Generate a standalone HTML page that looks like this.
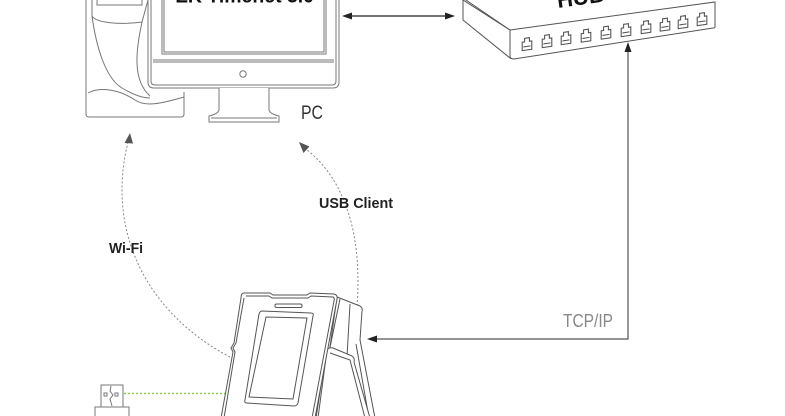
<!DOCTYPE html>
<html><head><meta charset="utf-8"><style>
html,body{margin:0;padding:0;background:#fff;}
svg{display:block;}
</style></head><body>
<svg width="785" height="416" viewBox="0 0 785 416" xmlns="http://www.w3.org/2000/svg">

<!-- Tower -->
<g fill="none" stroke="#777" stroke-width="1">
<path d="M86,0 L86,114 Q86,117 89,117 L181,117 Q184,117 184,114 L184,92"/>
<path d="M92,0 L92,16 C96,23 120,25 142,22 L148,0"/>
<path d="M97,0 L97,5 L142,5 L142,0"/>
<path d="M142,22 C136,50 132,80 150,96"/>
<path d="M92,16 C96,45 105,78 122,88 C132,94 142,98 150,98"/>
<path d="M88,93 C100,86 120,90 135,100 C145,107 160,104 184,97"/>
</g>

<!-- Monitor -->
<g fill="#fff" stroke="#777" stroke-width="1">
<path d="M148,-5 L148,82 Q148,88 154,88 L333,88 Q339,88 339,82 L339,-5 Z"/>
<path d="M151,-5 L151,81 Q151,85 155,85 L332,85 Q336,85 336,81 L336,-5" fill="none"/>
<path d="M153,60 L334,60 M153,62 L334,62" fill="none"/>
<rect x="162" y="-5" width="164" height="59" fill="none"/>
<rect x="164" y="-5" width="160" height="57" fill="none"/>
<circle cx="243" cy="74" r="3.2" fill="none"/>
<path d="M219,88 L219,110 Q218,114 209,116 L209,122 L279,122 L279,116 Q270,114 269,110 L269,88" fill="#fff"/>
<path d="M211,118 L277,118" fill="none"/>
</g>
<text x="176" y="2.5" font-family="Liberation Sans, sans-serif" font-weight="bold" font-size="20" fill="#111" textLength="138" lengthAdjust="spacingAndGlyphs">ZK Timenet 3.0</text>
<text x="301" y="119" font-family="Liberation Sans, sans-serif" font-size="19" fill="#333" textLength="22" lengthAdjust="spacingAndGlyphs">PC</text>

<!-- Switch -->
<g fill="#fff" stroke="#555" stroke-width="1">
<path d="M463,-2 L463,20 L510,58 L510,30 Z"/>
<path d="M510,30 L715,2 L715,27 Q715,28 713,28 L514,59 Q511,59 510,57 Z"/>
<path d="M463,-2 L463,0 L510,30" fill="none"/>
</g>
<g font-family="Liberation Sans, sans-serif" font-weight="bold" font-size="22" fill="#111">
<text x="558" y="8" transform="rotate(-8 558 8)">HUB</text>
</g>
<g fill="none" stroke="#555" stroke-width="0.9">
<g transform="translate(527,44) skewY(-8) scale(1.2)"><path d="M-4,5 L-4,-2 L-2,-2 L-2,-5 L2,-5 L2,-2 L4,-2 L4,5 Z M-3,2 L3,2"/></g>
<g transform="translate(547,41) skewY(-8) scale(1.2)"><path d="M-4,5 L-4,-2 L-2,-2 L-2,-5 L2,-5 L2,-2 L4,-2 L4,5 Z M-3,2 L3,2"/></g>
<g transform="translate(566,38) skewY(-8) scale(1.2)"><path d="M-4,5 L-4,-2 L-2,-2 L-2,-5 L2,-5 L2,-2 L4,-2 L4,5 Z M-3,2 L3,2"/></g>
<g transform="translate(586,35.5) skewY(-8) scale(1.2)"><path d="M-4,5 L-4,-2 L-2,-2 L-2,-5 L2,-5 L2,-2 L4,-2 L4,5 Z M-3,2 L3,2"/></g>
<g transform="translate(606,32.5) skewY(-8) scale(1.2)"><path d="M-4,5 L-4,-2 L-2,-2 L-2,-5 L2,-5 L2,-2 L4,-2 L4,5 Z M-3,2 L3,2"/></g>
<g transform="translate(626,30) skewY(-8) scale(1.2)"><path d="M-4,5 L-4,-2 L-2,-2 L-2,-5 L2,-5 L2,-2 L4,-2 L4,5 Z M-3,2 L3,2"/></g>
<g transform="translate(646,27) skewY(-8) scale(1.2)"><path d="M-4,5 L-4,-2 L-2,-2 L-2,-5 L2,-5 L2,-2 L4,-2 L4,5 Z M-3,2 L3,2"/></g>
<g transform="translate(665,24.5) skewY(-8) scale(1.2)"><path d="M-4,5 L-4,-2 L-2,-2 L-2,-5 L2,-5 L2,-2 L4,-2 L4,5 Z M-3,2 L3,2"/></g>
<g transform="translate(683,22) skewY(-8) scale(1.2)"><path d="M-4,5 L-4,-2 L-2,-2 L-2,-5 L2,-5 L2,-2 L4,-2 L4,5 Z M-3,2 L3,2"/></g>
<g transform="translate(702,19) skewY(-8) scale(1.2)"><path d="M-4,5 L-4,-2 L-2,-2 L-2,-5 L2,-5 L2,-2 L4,-2 L4,5 Z M-3,2 L3,2"/></g>
</g>

<!-- PC <-> switch -->
<line x1="350" y1="16" x2="447" y2="16" stroke="#222" stroke-width="1.2"/>
<path d="M342,16 L352,12.5 L352,19.5 Z" fill="#222"/>
<path d="M455,16 L445,12.5 L445,19.5 Z" fill="#222"/>

<!-- TCP/IP -->
<path d="M375,339 L628,339 L628,50" fill="none" stroke="#555" stroke-width="1.2"/>
<path d="M628,42 L624.5,52 L631.5,52 Z" fill="#222"/>
<path d="M367,339 L377,335.5 L377,342.5 Z" fill="#222"/>
<text x="563" y="327" font-family="Liberation Sans, sans-serif" font-size="18" fill="#888" textLength="50" lengthAdjust="spacingAndGlyphs">TCP/IP</text>

<!-- Dotted arcs -->
<path d="M230,357 C150,315 105,235 128,142" fill="none" stroke="#888" stroke-width="1" stroke-dasharray="2,2"/>
<path d="M130,133 L124.5,143 L133,143.5 Z" fill="#555"/>
<path d="M357,306 C362,240 348,182 306,149" fill="none" stroke="#888" stroke-width="1" stroke-dasharray="2,2"/>
<path d="M299,142 L303.5,153 L309.5,146.5 Z" fill="#555"/>
<text x="319" y="208" font-family="Liberation Sans, sans-serif" font-weight="bold" font-size="14.5" fill="#222" textLength="74" lengthAdjust="spacingAndGlyphs">USB Client</text>
<text x="109" y="253" font-family="Liberation Sans, sans-serif" font-weight="bold" font-size="14.5" fill="#222" textLength="34" lengthAdjust="spacingAndGlyphs">Wi-Fi</text>

<!-- Green dotted -->
<line x1="124" y1="393.5" x2="225" y2="393.5" stroke="#8ccc4a" stroke-width="1.4" stroke-dasharray="2,2"/>

<!-- USB dongle -->
<g fill="#fff" stroke="#777" stroke-width="1">
<rect x="101" y="385" width="22" height="22"/>
<rect x="95" y="407" width="34" height="12"/>
<path d="M111,386 L110,391 L113,395 L110,399 L112,406" fill="none"/>
<rect x="104" y="393" width="3" height="3" fill="none"/>
<rect x="115" y="393" width="3" height="3" fill="none"/>
</g>

<!-- Device -->
<g fill="#fff" stroke="#555" stroke-width="1">
<path d="M337,297 L360,306 Q363,308 362,311 L360,340 L375,418 L320,418 Z"/>
<path d="M340,299 L328,357 L318,418" fill="none"/>
<path d="M350,304 L347,357 L338,418" fill="none"/>
<path d="M356,344 L369,418" fill="none"/>
<path d="M327,350 Q329,347 333,348 L352,356 Q355,358 354,362 L370,418 L318,418 Z"/>
<path d="M330,353 L350,360 L365,418" fill="none"/>
<path d="M325,360 L316,418" fill="none"/>
<path d="M244,293 L270,293 L273,295 L307,295 L310,293 L334,294 Q338,295 337,299 L315,418 L221,418 L233,352 L231,348 L234,343 L241,298 Q241,293 244,293 Z"/>
<path d="M246,296 L269,296 L272,298 L308,298 L311,296 L333,297 Q335,298 334,301 L312,418 M244,298 L236,343 L233,348 L235,352 L224,418" fill="none"/>
<rect x="275" y="304" width="27" height="3.5" rx="1.5" fill="none"/>
<path d="M262,311 L311,313 Q314,313 313,316 L298,403 Q297,406 294,406 L247,403 Q244,403 245,400 L259,314 Q260,311 262,311 Z"/>
<path d="M266,317 L307,318 L293,399 L249,397 Z" fill="none"/>
</g>
</svg>
</body></html>
